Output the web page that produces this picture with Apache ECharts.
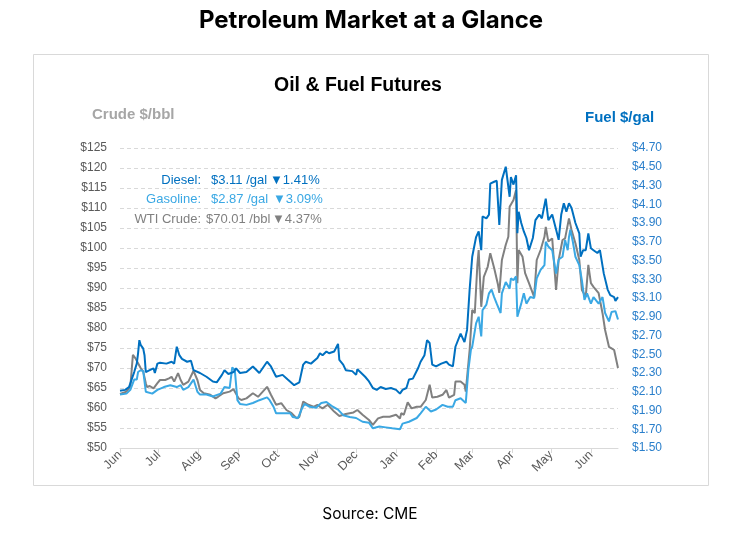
<!DOCTYPE html>
<html>
<head>
<meta charset="utf-8">
<script src="https://cdn.jsdelivr.net/npm/echarts@6/dist/echarts.min.js"></script>
<style>
html,body{margin:0;padding:0;background:#fff;}
#chart{width:744px;height:536px;}
</style>
</head>
<body>
<div id="chart"></div>
<script>
// ---------- DATA ----------
const monthNames = ['Jan','Feb','Mar','Apr','May','Jun','Jul','Aug','Sep','Oct','Nov','Dec'];
const monthTicks = ['2021-06-01','2021-07-01','2021-08-01','2021-09-01','2021-10-01','2021-11-01','2021-12-01',
  '2022-01-01','2022-02-01','2022-03-01','2022-04-01','2022-05-01','2022-06-01'];
const startDate = '2021-06-01';
const endDate = '2022-06-22';

const crudeAxis = {min: 50, max: 125, step: 5};
const fuelAxis = {min: 1.5, max: 4.7, step: 0.2};

const diesel = [
['2021-06-01',2.11],['2021-06-05',2.12],['2021-06-08',2.15],['2021-06-10',2.23],['2021-06-12',2.31],['2021-06-14',2.40],
['2021-06-15',2.51],['2021-06-16',2.65],['2021-06-17',2.60],['2021-06-19',2.56],['2021-06-20',2.49],['2021-06-21',2.31],
['2021-06-22',2.30],['2021-06-24',2.33],['2021-06-27',2.35],['2021-06-28',2.30],['2021-06-30',2.40],['2021-07-02',2.41],
['2021-07-07',2.40],['2021-07-11',2.42],['2021-07-13',2.40],['2021-07-15',2.58],['2021-07-17',2.49],['2021-07-19',2.45],
['2021-07-23',2.42],['2021-07-26',2.43],['2021-07-28',2.33],['2021-08-02',2.30],['2021-08-07',2.26],['2021-08-12',2.21],
['2021-08-15',2.20],['2021-08-19',2.28],['2021-08-21',2.33],['2021-08-24',2.29],['2021-08-28',2.31],['2021-08-30',2.35],
['2021-09-02',2.30],['2021-09-07',2.31],['2021-09-12',2.37],['2021-09-17',2.30],['2021-09-23',2.42],['2021-09-26',2.37],
['2021-09-30',2.26],['2021-10-05',2.28],['2021-10-09',2.23],['2021-10-14',2.17],['2021-10-18',2.20],['2021-10-21',2.39],
['2021-10-23',2.42],['2021-10-27',2.40],['2021-11-01',2.46],['2021-11-03',2.51],['2021-11-05',2.49],['2021-11-08',2.53],
['2021-11-10',2.51],['2021-11-14',2.53],['2021-11-17',2.61],['2021-11-18',2.44],['2021-11-21',2.39],['2021-11-23',2.33],
['2021-11-28',2.32],['2021-12-01',2.28],['2021-12-02',2.34],['2021-12-08',2.26],['2021-12-11',2.21],['2021-12-14',2.14],
['2021-12-17',2.12],['2021-12-20',2.15],['2021-12-24',2.13],['2021-12-28',2.14],['2022-01-01',2.12],['2022-01-04',2.08],
['2022-01-06',2.12],['2022-01-09',2.14],['2022-01-11',2.23],['2022-01-14',2.24],['2022-01-18',2.35],['2022-01-20',2.42],
['2022-01-23',2.49],['2022-01-25',2.65],['2022-01-27',2.62],['2022-01-29',2.39],['2022-02-01',2.37],['2022-02-05',2.40],
['2022-02-09',2.42],['2022-02-11',2.39],['2022-02-14',2.37],['2022-02-16',2.58],['2022-02-20',2.72],['2022-02-23',2.63],
['2022-02-25',2.76],['2022-02-27',3.19],['2022-03-01',3.54],['2022-03-04',3.75],['2022-03-06',3.81],['2022-03-08',3.61],
['2022-03-09',3.97],['2022-03-12',3.95],['2022-03-14',3.99],['2022-03-15',4.32],['2022-03-18',4.34],['2022-03-20',4.35],
['2022-03-22',3.88],['2022-03-24',4.36],['2022-03-27',4.50],['2022-03-30',4.18],['2022-03-31',4.39],['2022-04-02',4.31],
['2022-04-04',4.41],['2022-04-05',3.79],['2022-04-06',4.02],['2022-04-08',3.90],['2022-04-10',3.81],['2022-04-12',3.74],
['2022-04-14',3.61],['2022-04-17',3.74],['2022-04-19',3.93],['2022-04-22',3.99],['2022-04-24',3.95],['2022-04-27',4.16],
['2022-04-29',3.93],['2022-05-02',3.99],['2022-05-05',3.83],['2022-05-07',3.72],['2022-05-09',3.99],['2022-05-11',4.11],
['2022-05-13',4.02],['2022-05-15',4.11],['2022-05-17',4.06],['2022-05-20',3.90],['2022-05-23',3.79],['2022-05-24',3.54],
['2022-05-26',3.61],['2022-05-28',3.61],['2022-05-30',3.79],['2022-06-01',3.63],['2022-06-03',3.61],['2022-06-06',3.58],
['2022-06-08',3.61],['2022-06-11',3.36],['2022-06-14',3.19],['2022-06-16',3.13],['2022-06-19',3.11],['2022-06-20',3.07],
['2022-06-22',3.11]
];

const gasoline = [
['2021-06-01',2.07],['2021-06-06',2.08],['2021-06-09',2.12],['2021-06-12',2.23],['2021-06-14',2.23],['2021-06-15',2.31],
['2021-06-17',2.33],['2021-06-19',2.32],['2021-06-21',2.10],['2021-06-22',2.08],['2021-06-26',2.08],['2021-06-30',2.12],
['2021-07-05',2.15],['2021-07-10',2.17],['2021-07-15',2.15],['2021-07-18',2.17],['2021-07-20',2.12],['2021-07-24',2.15],
['2021-07-28',2.23],['2021-07-31',2.10],['2021-08-02',2.07],['2021-08-07',2.07],['2021-08-12',2.05],['2021-08-18',2.08],
['2021-08-21',2.15],['2021-08-25',2.14],['2021-08-27',2.36],['2021-08-29',2.33],['2021-08-31',2.01],['2021-09-02',1.97],
['2021-09-07',1.96],['2021-09-12',1.98],['2021-09-17',2.01],['2021-09-23',2.04],['2021-09-25',2.01],['2021-09-28',1.94],
['2021-09-30',1.87],['2021-10-05',1.87],['2021-10-11',1.87],['2021-10-13',1.83],['2021-10-17',1.82],['2021-10-20',1.92],
['2021-10-22',1.97],['2021-10-26',1.94],['2021-10-31',1.93],['2021-11-04',1.98],['2021-11-08',1.99],['2021-11-13',1.94],
['2021-11-17',1.91],['2021-11-21',1.85],['2021-11-26',1.83],['2021-12-01',1.82],['2021-12-06',1.78],['2021-12-11',1.77],
['2021-12-14',1.71],['2021-12-19',1.73],['2021-12-24',1.72],['2021-12-29',1.71],['2022-01-04',1.70],['2022-01-06',1.76],
['2022-01-11',1.78],['2022-01-17',1.82],['2022-01-20',1.87],['2022-01-24',1.94],['2022-01-28',1.89],['2022-02-01',1.91],
['2022-02-06',1.96],['2022-02-10',1.94],['2022-02-14',1.94],['2022-02-16',2.01],['2022-02-20',2.03],['2022-02-24',1.98],
['2022-02-26',2.33],['2022-02-28',2.55],['2022-03-01',2.58],['2022-03-04',2.83],['2022-03-06',2.90],['2022-03-08',2.69],
['2022-03-09',2.97],['2022-03-12',3.03],['2022-03-14',3.15],['2022-03-16',3.19],['2022-03-18',3.11],['2022-03-20',3.04],
['2022-03-23',2.94],['2022-03-24',3.15],['2022-03-27',3.27],['2022-03-30',3.20],['2022-03-31',3.31],['2022-04-02',3.29],
['2022-04-04',3.33],['2022-04-05',2.90],['2022-04-08',3.04],['2022-04-10',3.15],['2022-04-12',3.04],['2022-04-15',3.11],
['2022-04-18',3.10],['2022-04-20',3.31],['2022-04-23',3.40],['2022-04-26',3.45],['2022-04-27',3.70],['2022-04-29',3.65],
['2022-05-02',3.61],['2022-05-05',3.36],['2022-05-07',3.51],['2022-05-10',3.54],['2022-05-12',3.72],['2022-05-14',3.61],
['2022-05-15',3.75],['2022-05-16',3.83],['2022-05-18',3.70],['2022-05-20',3.54],['2022-05-23',3.45],['2022-05-25',3.29],
['2022-05-27',3.08],['2022-05-29',3.15],['2022-06-01',3.04],['2022-06-03',3.11],['2022-06-07',3.04],['2022-06-10',3.11],
['2022-06-12',2.94],['2022-06-15',2.85],['2022-06-17',2.95],['2022-06-20',2.96],['2022-06-22',2.87]
];

const wti = [
['2021-06-01',63.5],['2021-06-06',64.1],['2021-06-09',65.3],['2021-06-11',73.3],['2021-06-13',72.4],['2021-06-15',71.2],
['2021-06-17',70.0],['2021-06-19',69.1],['2021-06-21',66.2],['2021-06-22',65.2],['2021-06-24',65.5],['2021-06-27',64.9],
['2021-06-30',66.2],['2021-07-02',67.0],['2021-07-06',67.0],['2021-07-09',67.4],['2021-07-11',67.8],['2021-07-13',66.6],
['2021-07-16',68.7],['2021-07-18',67.0],['2021-07-20',65.8],['2021-07-24',66.6],['2021-07-28',69.3],['2021-07-31',67.0],
['2021-08-02',64.5],['2021-08-05',63.7],['2021-08-10',63.3],['2021-08-14',62.4],['2021-08-16',62.8],['2021-08-20',63.7],
['2021-08-25',64.1],['2021-08-28',64.7],['2021-09-01',62.4],['2021-09-03',62.0],['2021-09-07',62.4],['2021-09-12',63.7],
['2021-09-16',62.8],['2021-09-23',65.3],['2021-09-26',63.3],['2021-09-30',60.8],['2021-10-04',61.2],['2021-10-08',59.5],
['2021-10-12',58.7],['2021-10-16',57.4],['2021-10-18',57.8],['2021-10-21',61.6],['2021-10-25',60.8],['2021-10-29',60.3],
['2021-11-01',60.8],['2021-11-03',60.3],['2021-11-05',59.9],['2021-11-09',60.8],['2021-11-14',59.1],['2021-11-18',58.0],
['2021-11-23',58.5],['2021-11-29',58.9],['2021-12-02',59.5],['2021-12-06',58.3],['2021-12-11',57.0],['2021-12-14',55.8],
['2021-12-18',57.4],['2021-12-22',57.8],['2021-12-27',57.8],['2022-01-01',58.3],['2022-01-04',57.4],['2022-01-05',58.7],
['2022-01-07',58.3],['2022-01-10',61.4],['2022-01-13',59.9],['2022-01-17',60.3],['2022-01-20',60.3],['2022-01-24',62.0],
['2022-01-27',65.8],['2022-01-29',62.6],['2022-02-02',62.8],['2022-02-06',63.3],['2022-02-09',64.5],['2022-02-11',62.6],
['2022-02-15',63.3],['2022-02-16',66.6],['2022-02-20',66.6],['2022-02-23',65.8],['2022-02-24',64.1],['2022-02-27',74.5],
['2022-03-01',84.5],['2022-03-03',83.7],['2022-03-05',95.8],['2022-03-06',99.5],['2022-03-08',85.3],['2022-03-10',92.8],
['2022-03-13',95.3],['2022-03-15',98.7],['2022-03-18',95.0],['2022-03-21',90.8],['2022-03-22',88.8],['2022-03-24',97.0],
['2022-03-27',100.8],['2022-03-29',102.8],['2022-03-30',110.3],['2022-04-02',112.0],['2022-04-04',114.5],['2022-04-05',91.2],
['2022-04-06',99.5],['2022-04-09',97.8],['2022-04-11',93.7],['2022-04-14',91.2],['2022-04-18',87.8],['2022-04-20',97.0],
['2022-04-23',99.5],['2022-04-26',102.8],['2022-04-27',105.3],['2022-04-29',101.6],['2022-05-02',102.4],['2022-05-05',89.5],
['2022-05-07',97.0],['2022-05-10',102.0],['2022-05-12',102.4],['2022-05-15',107.4],['2022-05-17',104.5],['2022-05-20',101.2],
['2022-05-23',97.0],['2022-05-25',89.5],['2022-05-28',87.8],['2022-05-30',95.8],['2022-06-01',91.2],['2022-06-03',90.3],
['2022-06-07',88.7],['2022-06-10',83.7],['2022-06-12',79.5],['2022-06-15',75.3],['2022-06-17',74.9],['2022-06-19',74.5],
['2022-06-22',70.01]
];

const legendRows = [
  {label: 'Diesel:', price: '$3.11 /gal', change: '\u25BC1.41%'},
  {label: 'Gasoline:', price: '$2.87 /gal', change: '\u25BC3.09%'},
  {label: 'WTI Crude:', price: '$70.01 /bbl', change: '\u25BC4.37%'}
];

// ---------- STYLE ----------
const C_DIESEL = '#0070c0';
const C_GAS = '#3aa8e4';
const C_WTI = '#808080';
const FONT = '"Liberation Sans", Arial, sans-serif';
const TITLE_FONT = 'Inter, "Open Sans", sans-serif';

function toTime(s) { const p = s.split('-'); return Date.UTC(+p[0], +p[1] - 1, +p[2]); }
const monthTickTimes = monthTicks.map(toTime);
const toSeries = arr => arr.map(d => [toTime(d[0]), d[1]]);

const chart = echarts.init(document.getElementById('chart'), null, {renderer: 'canvas'});

const legendY = [180, 199.5, 219];
const legendColors = [C_DIESEL, C_GAS, C_WTI];
const priceX = [211, 211, 206];
const changeX = [270, 273, 272];
const legendGraphics = [];
legendRows.forEach((r, i) => {
  const common = {textVerticalAlign: 'middle', fill: legendColors[i], font: '13px ' + FONT};
  legendGraphics.push({type: 'text', x: 201, y: legendY[i], z: 10, style: Object.assign({text: r.label, textAlign: 'right'}, common)});
  legendGraphics.push({type: 'text', x: priceX[i], y: legendY[i], z: 10, style: Object.assign({text: r.price, textAlign: 'left'}, common)});
  legendGraphics.push({type: 'text', x: changeX[i], y: legendY[i], z: 10, style: Object.assign({text: r.change, textAlign: 'left'}, common)});
});

const option = {
  animation: false,
  backgroundColor: '#ffffff',
  textStyle: {fontFamily: FONT},
  graphic: [
    {type: 'rect', z: -10, silent: true, shape: {x: 33.5, y: 54.5, width: 675, height: 431},
     style: {fill: '#ffffff', stroke: '#d9d9d9', lineWidth: 1}},
    {type: 'text', x: 371, y: 21, style: {text: 'Petroleum Market at a Glance', textAlign: 'center', textVerticalAlign: 'middle',
      fill: '#000', font: 'bold 24px ' + TITLE_FONT}},
    {type: 'text', x: 358, y: 86, style: {text: 'Oil & Fuel Futures', textAlign: 'center', textVerticalAlign: 'middle',
      fill: '#000', font: 'bold 19.5px ' + FONT}},
    {type: 'text', x: 92, y: 115, style: {text: 'Crude $/bbl', textAlign: 'left', textVerticalAlign: 'middle',
      fill: '#a6a6a6', font: 'bold 15px ' + FONT}},
    {type: 'text', x: 585, y: 117.5, style: {text: 'Fuel $/gal', textAlign: 'left', textVerticalAlign: 'middle',
      fill: C_DIESEL, font: 'bold 15px ' + FONT}},
    {type: 'text', x: 370, y: 514, style: {text: 'Source: CME', textAlign: 'center', textVerticalAlign: 'middle',
      fill: '#000', font: '15.5px ' + TITLE_FONT}}
  ].concat(legendGraphics),
  grid: {left: 120, right: 126, top: 148, bottom: 88, containLabel: false},
  xAxis: {
    type: 'value',
    min: toTime(startDate),
    max: toTime(endDate),
    axisLine: {show: true, lineStyle: {color: '#d9d9d9', width: 1}},
    axisTick: {show: true, length: 5, customValues: monthTickTimes, lineStyle: {color: '#d9d9d9'}},
    axisLabel: {
      customValues: monthTickTimes,
      rotate: 45, color: '#595959', fontSize: 12.5, margin: 5, fontFamily: FONT,
      formatter: v => monthNames[new Date(v).getUTCMonth()]
    },
    splitLine: {show: false}
  },
  yAxis: [
    {
      type: 'value', position: 'left', min: crudeAxis.min, max: crudeAxis.max, interval: crudeAxis.step,
      axisLine: {show: false}, axisTick: {show: false},
      splitLine: {show: true, lineStyle: {color: '#d9d9d9', type: [4, 3], width: 1}},
      axisLabel: {color: '#595959', fontSize: 12, margin: 13, formatter: v => '$' + v}
    },
    {
      type: 'value', position: 'right', min: fuelAxis.min, max: fuelAxis.max, interval: fuelAxis.step,
      axisLine: {show: false}, axisTick: {show: false}, splitLine: {show: false},
      axisLabel: {color: '#2a7fcb', fontSize: 12, margin: 14, formatter: v => '$' + v.toFixed(2)}
    }
  ],
  series: [
    {name: 'WTI Crude', type: 'line', yAxisIndex: 0, data: toSeries(wti), showSymbol: false, symbol: 'none', z: 3,
     lineStyle: {color: C_WTI, width: 2}, itemStyle: {color: C_WTI}},
    {name: 'Gasoline', type: 'line', yAxisIndex: 1, data: toSeries(gasoline), showSymbol: false, symbol: 'none', z: 4,
     lineStyle: {color: C_GAS, width: 2}, itemStyle: {color: C_GAS}},
    {name: 'Diesel', type: 'line', yAxisIndex: 1, data: toSeries(diesel), showSymbol: false, symbol: 'none', z: 5,
     lineStyle: {color: C_DIESEL, width: 2}, itemStyle: {color: C_DIESEL}}
  ]
};
chart.setOption(option);
</script>
</body>
</html>
